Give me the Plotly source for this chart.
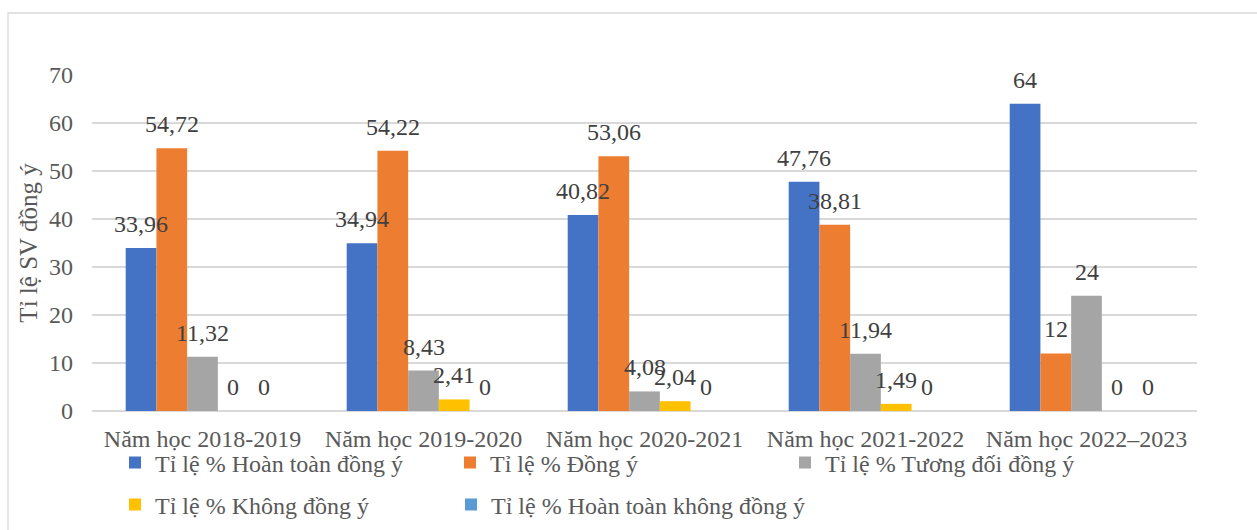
import plotly.graph_objects as go

# School years on the category axis
years = ["Năm học 2018-2019", "Năm học 2019-2020", "Năm học 2020-2021",
         "Năm học 2021-2022", "Năm học 2022–2023"]

# Share of students (%) per answer level
hoan_toan_dong_y = [33.96, 34.94, 40.82, 47.76, 64]
dong_y = [54.72, 54.22, 53.06, 38.81, 12]
tuong_doi_dong_y = [11.32, 8.43, 4.08, 11.94, 24]
khong_dong_y = [0, 2.41, 2.04, 1.49, 0]
hoan_toan_khong_dong_y = [0, 0, 0, 0, 0]

series_names = ["Tỉ lệ % Hoàn toàn đồng ý", "Tỉ lệ % Đồng ý", "Tỉ lệ % Tương đối đồng ý",
                "Tỉ lệ % Không đồng ý", "Tỉ lệ % Hoàn toàn không đồng ý"]
series_values = [hoan_toan_dong_y, dong_y, tuong_doi_dong_y, khong_dong_y, hoan_toan_khong_dong_y]
series_colors = ["#4472C4", "#ED7D31", "#A5A5A5", "#FFC000", "#5B9BD5"]
legend_slots = ["legend", "legend", "legend", "legend2", "legend3"]

y_ticks = [0, 10, 20, 30, 40, 50, 60, 70]

FONT = "Liberation Serif, Times New Roman, serif"
TEXT_GREY = "#595959"
LABEL_GREY = "#404040"
BARGAP = 0.305
W, H = 1257, 530
M_L, M_R, M_T, M_B = 92, 60, 75, 119
LEGEND_LEFT = 115      # px
LEGEND_ENTRY = 290     # px of text room per entry
LEGEND_ITEM = 46       # symbol + gaps that plotly adds to each entry


def vn_number(v):
    # Vietnamese decimal comma
    return f"{v:g}".replace(".", ",")


fig = go.Figure()
for name, vals, col, lg in zip(series_names, series_values, series_colors, legend_slots):
    fig.add_trace(go.Bar(
        name=name, x=years, y=vals, marker=dict(color=col, line=dict(width=0)),
        legend=lg, hoverinfo="x+y+name",
    ))

# Value labels above every bar, centred on its slot within the group
n = len(series_values)
slot = (1 - BARGAP) / n
annotations = []
for j, vals in enumerate(series_values):
    off = -(1 - BARGAP) / 2 + (j + 0.5) * slot
    for i, v in enumerate(vals):
        annotations.append(dict(
            x=i + off, y=v, xref="x", yref="y", text=vn_number(v),
            showarrow=False, yanchor="bottom", xanchor="center", yshift=9,
            font=dict(family=FONT, size=24, color=LABEL_GREY),
        ))

plot_w = W - M_L - M_R
plot_h = H - M_T - M_B


def px_to_paper_x(px):
    return (px - M_L) / plot_w


def px_to_paper_y(py):
    return (H - M_B - py) / plot_h


# Chart-area frame
shapes = [dict(
    type="rect", xref="paper", yref="paper",
    x0=px_to_paper_x(8), x1=px_to_paper_x(W + 10),
    y0=px_to_paper_y(H + 10), y1=px_to_paper_y(13),
    line=dict(color="#D9D9D9", width=1.3), fillcolor="rgba(0,0,0,0)", layer="below",
)]

legend_common = dict(
    orientation="h", xref="paper", yref="paper", xanchor="left", yanchor="middle",
    entrywidth=LEGEND_ENTRY, entrywidthmode="pixels", bgcolor="rgba(0,0,0,0)",
    font=dict(family=FONT, size=24, color=TEXT_GREY), traceorder="normal",
)
col2_left = LEGEND_LEFT + LEGEND_ENTRY + LEGEND_ITEM

fig.update_layout(
    width=W, height=H,
    margin=dict(l=M_L, r=M_R, t=M_T, b=M_B, autoexpand=False),
    paper_bgcolor="white", plot_bgcolor="white",
    barmode="group", bargap=BARGAP, bargroupgap=0,
    font=dict(family=FONT, size=24, color=TEXT_GREY),
    xaxis=dict(
        type="category", showgrid=False, zeroline=False, showline=False,
        ticks="", tickfont=dict(family=FONT, size=24, color=TEXT_GREY),
        ticklabelstandoff=11,
    ),
    yaxis=dict(
        range=[0, 70], tickvals=y_ticks, showgrid=True, gridcolor="#D9D9D9",
        gridwidth=1.5, zeroline=True, zerolinecolor="#D9D9D9", zerolinewidth=1.5,
        showline=False, ticks="", ticklabelstandoff=18,
        tickfont=dict(family=FONT, size=24, color=TEXT_GREY),
        title=dict(text="Tỉ lệ SV đồng ý", standoff=4,
                   font=dict(family=FONT, size=25, color=TEXT_GREY)),
    ),
    legend=dict(x=px_to_paper_x(LEGEND_LEFT), y=px_to_paper_y(463), **legend_common),
    legend2=dict(x=px_to_paper_x(LEGEND_LEFT), y=px_to_paper_y(505), **legend_common),
    legend3=dict(x=px_to_paper_x(col2_left), y=px_to_paper_y(505),
                 **{**legend_common, "entrywidth": 400}),
    annotations=annotations,
    shapes=shapes,
)

fig.write_html("out.html")
